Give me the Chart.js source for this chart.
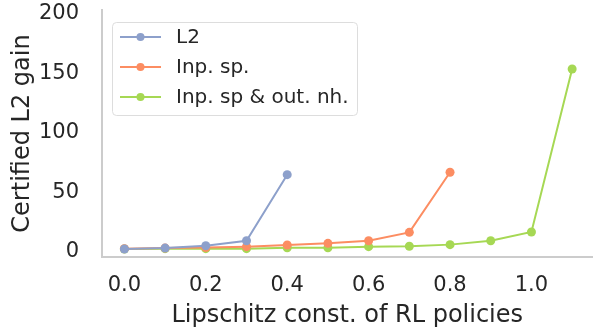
<!DOCTYPE html>
<html>
<head>
<meta charset="utf-8">
<script src="https://cdn.jsdelivr.net/npm/chart.js@4.4.1/dist/chart.umd.min.js"></script>
<style>
  html, body { margin: 0; padding: 0; background: #ffffff; }
  #wrap { width: 597px; height: 330px; }
</style>
</head>
<body>
<div id="wrap"><canvas id="chart" width="597" height="330"></canvas></div>
<script>
// Values
const l2X = [0.0, 0.1, 0.2, 0.3, 0.4];
const l2Y = [2.5, 3.3, 5.3, 9.5, 65];
const inpSpX = [0.0, 0.1, 0.2, 0.3, 0.4, 0.5, 0.6, 0.7, 0.8];
const inpSpY = [2.8, 3.3, 3.8, 4.5, 5.9, 7.3, 9.5, 16.5, 67];
const inpOutX = [0.0, 0.1, 0.2, 0.3, 0.4, 0.5, 0.6, 0.7, 0.8, 0.9, 1.0, 1.1];
const inpOutY = [2.5, 2.8, 2.8, 2.8, 3.6, 3.6, 4.5, 4.8, 6.2, 9.5, 16.8, 153.8];
const seriesNames = ["L2", "Inp. sp.", "Inp. sp & out. nh."];
const seriesColors = ["#8da0cb", "#fc8d62", "#a6d854"];
const xTicks = [0.0, 0.2, 0.4, 0.6, 0.8, 1.0];
const yTicks = [0, 50, 100, 150, 200];

const textColor = "#262626";
const fontFamily = "'DejaVu Sans', sans-serif";

function toPoints(xs, ys) {
    return xs.map((x, i) => ({ x: x, y: ys[i] }));
}

const pointSets = [toPoints(l2X, l2Y), toPoints(inpSpX, inpSpY), toPoints(inpOutX, inpOutY)];

// legend drawn like matplotlib: short line with a marker in the middle
const lineLegend = {
    id: "lineLegend",
    afterDraw(chart) {
        const c = chart.ctx;
        const x0 = 112, y0 = 22, w = 245, h = 93;
        c.save();
        c.fillStyle = "rgba(255,255,255,0.8)";
        c.strokeStyle = "#dddddd";
        c.lineWidth = 1;
        c.beginPath();
        c.roundRect(x0 + 0.5, y0 + 0.5, w, h, 4);
        c.fill();
        c.stroke();
        c.font = "20px " + fontFamily;
        c.textBaseline = "middle";
        chart.data.datasets.forEach((ds, i) => {
            const y = y0 + 15 + i * 30;
            c.strokeStyle = ds.borderColor;
            c.lineWidth = 2;
            c.beginPath();
            c.moveTo(120, y);
            c.lineTo(161, y);
            c.stroke();
            c.fillStyle = ds.borderColor;
            c.beginPath();
            c.arc(140.5, y, 4, 0, Math.PI * 2);
            c.fill();
            c.fillStyle = textColor;
            c.fillText(ds.label, 176, y + 1);
        });
        c.restore();
    }
};

new Chart(document.getElementById("chart"), {
    type: "line",
    data: {
        datasets: pointSets.map((pts, i) => ({
            label: seriesNames[i],
            data: pts,
            borderColor: seriesColors[i],
            backgroundColor: seriesColors[i],
            borderWidth: 2,
            pointRadius: 4.5,
            pointBorderWidth: 0,
            pointHoverRadius: 4.5,
            tension: 0,
            clip: false
        }))
    },
    options: {
        responsive: false,
        animation: false,
        events: [],
        layout: { padding: { top: 10, right: 0, left: 0, bottom: 0 } },
        plugins: {
            legend: { display: false },
            tooltip: { enabled: false }
        },
        scales: {
            x: {
                type: "linear",
                min: -0.055,
                max: 1.15,
                grid: { display: false },
                border: { display: true, color: "#cccccc", width: 2 },
                afterBuildTicks: s => { s.ticks = xTicks.map(v => ({ value: v })); },
                afterFit: s => { s.height = 73; s.paddingLeft = 0; s.paddingRight = 0; },
                ticks: {
                    color: textColor,
                    font: { family: fontFamily, size: 21 },
                    padding: 8,
                    maxRotation: 0,
                    callback: v => Number(v).toFixed(1)
                },
                title: {
                    display: true,
                    text: "Lipschitz const. of RL policies",
                    color: textColor,
                    font: { family: fontFamily, size: 24 },
                    padding: { top: 0, bottom: 0 }
                }
            },
            y: {
                min: -4.2,
                max: 203.4,
                grid: { display: false },
                border: { display: true, color: "#cccccc", width: 2 },
                afterBuildTicks: s => { s.ticks = yTicks.map(v => ({ value: v })); },
                afterFit: s => { s.width = 102; s.paddingTop = 0; s.paddingBottom = 0; },
                ticks: {
                    color: textColor,
                    font: { family: fontFamily, size: 21 },
                    padding: 15
                },
                title: {
                    display: true,
                    text: "Certified L2 gain",
                    color: textColor,
                    font: { family: fontFamily, size: 24 },
                    padding: { top: 8, bottom: 0 }
                }
            }
        }
    },
    plugins: [lineLegend]
});
</script>
</body>
</html>
